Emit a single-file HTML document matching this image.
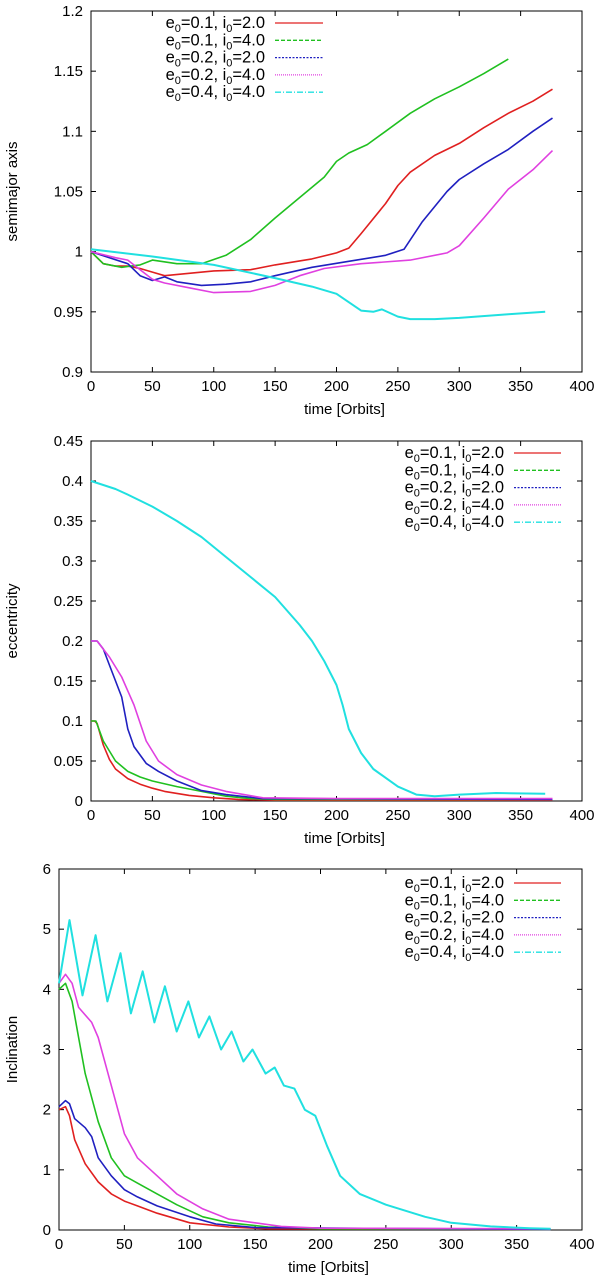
<!DOCTYPE html>
<html><head><meta charset="utf-8"><style>
html,body{margin:0;padding:0;background:#fff;}
svg{display:block;font-family:"Liberation Sans",sans-serif;}
</style></head><body>
<svg id="c" width="600" height="1285" xmlns="http://www.w3.org/2000/svg"></svg>
<script>
const xTicks=[0,50,100,150,200,250,300,350,400];
const legendLabels=[["0.1","2.0"],["0.1","4.0"],["0.2","2.0"],["0.2","4.0"],["0.4","4.0"]];
const colors=["#e02020","#20c020","#2020c0","#e040e0","#20e0e0"];
const dashes=["","4,2","2,1.5","1,1","6,2,1,2"];

const aTicks=[0.9,0.95,1,1.05,1.1,1.15,1.2];
const aRed=[[0,1],[10,0.99],[20,0.988],[30,0.988],[40,0.986],[50,0.983],[60,0.98],[80,0.982],[100,0.984],[130,0.985],[150,0.989],[180,0.994],[200,0.999],[210,1.003],[220,1.015],[240,1.04],[250,1.055],[260,1.066],[280,1.08],[300,1.09],[320,1.103],[340,1.115],[360,1.125],[376,1.135]];
const aGreen=[[0,1],[10,0.99],[25,0.987],[40,0.989],[50,0.993],[70,0.99],[90,0.99],[110,0.997],[130,1.01],[150,1.028],[170,1.045],[190,1.062],[200,1.075],[210,1.082],[225,1.089],[240,1.1],[260,1.115],[280,1.127],[300,1.137],[320,1.148],[340,1.16]];
const aBlue=[[0,1],[15,0.995],[30,0.99],[40,0.98],[50,0.976],[60,0.979],[70,0.975],[90,0.972],[110,0.973],[130,0.975],[150,0.98],[180,0.987],[210,0.992],[240,0.997],[255,1.002],[270,1.025],[290,1.05],[300,1.06],[320,1.073],[340,1.085],[360,1.1],[376,1.111]];
const aMag=[[0,1],[20,0.995],[30,0.993],[40,0.985],[50,0.977],[60,0.974],[80,0.97],[100,0.966],[130,0.967],[150,0.972],[170,0.98],[190,0.986],[220,0.99],[260,0.993],[290,0.999],[300,1.005],[320,1.028],[340,1.052],[360,1.068],[376,1.084]];
const aCyan=[[0,1.002],[50,0.996],[100,0.989],[150,0.978],[180,0.971],[200,0.965],[210,0.958],[220,0.951],[230,0.95],[237,0.952],[250,0.946],[260,0.944],[280,0.944],[300,0.945],[340,0.948],[370,0.95]];

const eTicks=[0,0.05,0.1,0.15,0.2,0.25,0.3,0.35,0.4,0.45];
const eRed=[[0,0.1],[3,0.1],[5,0.097],[10,0.07],[15,0.052],[20,0.04],[30,0.028],[40,0.021],[50,0.016],[60,0.012],[80,0.007],[100,0.004],[120,0.002],[150,0.001],[376,0.001]];
const eGreen=[[0,0.1],[4,0.1],[10,0.075],[20,0.05],[30,0.037],[40,0.03],[50,0.025],[70,0.018],[90,0.012],[110,0.006],[130,0.003],[150,0.002],[376,0.002]];
const eBlue=[[0,0.2],[5,0.2],[10,0.19],[15,0.17],[25,0.13],[30,0.09],[35,0.068],[45,0.047],[55,0.037],[70,0.025],[90,0.013],[110,0.008],[140,0.003],[376,0.002]];
const eMag=[[0,0.2],[5,0.2],[15,0.18],[25,0.155],[35,0.12],[45,0.075],[55,0.05],[70,0.033],[90,0.02],[110,0.012],[140,0.004],[200,0.003],[376,0.003]];
const eCyan=[[0,0.4],[10,0.395],[20,0.39],[30,0.383],[50,0.368],[70,0.35],[90,0.33],[110,0.305],[130,0.28],[150,0.255],[170,0.22],[180,0.2],[190,0.175],[200,0.145],[205,0.12],[210,0.09],[220,0.06],[230,0.04],[250,0.018],[265,0.008],[280,0.006],[300,0.008],[330,0.01],[370,0.009]];

const iTicks=[0,1,2,3,4,5,6];
const iRed=[[0,2.0],[5,2.05],[8,1.9],[12,1.5],[20,1.1],[30,0.8],[40,0.6],[50,0.48],[60,0.4],[75,0.28],[100,0.12],[130,0.05],[160,0.02],[376,0.01]];
const iGreen=[[0,4.0],[5,4.1],[10,3.8],[15,3.2],[20,2.6],[30,1.8],[40,1.2],[50,0.9],[60,0.78],[75,0.6],[90,0.42],[110,0.22],[130,0.12],[160,0.05],[200,0.02],[376,0.01]];
const iBlue=[[0,2.05],[5,2.15],[8,2.1],[12,1.85],[20,1.7],[25,1.55],[30,1.2],[40,0.9],[50,0.67],[60,0.55],[75,0.4],[100,0.22],[120,0.1],[150,0.04],[376,0.01]];
const iMag=[[0,4.1],[5,4.25],[10,4.1],[15,3.7],[25,3.45],[30,3.2],[40,2.4],[50,1.6],[60,1.2],[75,0.9],[90,0.6],[110,0.35],[130,0.18],[150,0.12],[170,0.06],[200,0.03],[376,0.02]];
const iCyan=[[0,4.1],[8,5.15],[18,3.9],[28,4.9],[37,3.8],[47,4.6],[55,3.6],[64,4.3],[73,3.45],[81,4.05],[90,3.3],[99,3.8],[107,3.2],[115,3.55],[124,3.0],[132,3.3],[141,2.8],[148,3.0],[158,2.6],[165,2.7],[172,2.4],[180,2.35],[188,2.0],[196,1.9],[205,1.4],[215,0.9],[230,0.6],[250,0.42],[280,0.22],[300,0.12],[330,0.06],[360,0.03],[376,0.02]];

const NS="http://www.w3.org/2000/svg";
const svg=document.getElementById('c');
function mk(t,a,p){const e=document.createElementNS(NS,t);for(const k in a)e.setAttribute(k,a[k]);(p||svg).appendChild(e);return e;}

function panel(name,L,R,T,B,ymin,ymax,yTicks,yDec,ylabel,series,legX,legY,legEnd){
  const g=mk('g',{});
  
  
  const xs=v=>L+(v-0)/(400-0)*(R-L);
  const ys=v=>B-(v-ymin)/(ymax-ymin)*(B-T);
  const ax=mk('rect',{x:L,y:T,width:R-L,height:B-T,fill:'none',stroke:'#000','stroke-width':1},g);
  
  
  xTicks.forEach(t=>{
    const x=xs(t);
    mk('line',{x1:x,y1:B,x2:x,y2:B-5,stroke:'#000'},g);
    mk('line',{x1:x,y1:T,x2:x,y2:T+5,stroke:'#000'},g);
    const tx=mk('text',{x:x,y:B+19,'font-size':15,'text-anchor':'middle'},g);
    tx.textContent=t;
    
    
  });
  yTicks.forEach(t=>{
    const y=ys(t);
    mk('line',{x1:L,y1:y,x2:L+5,y2:y,stroke:'#000'},g);
    mk('line',{x1:R,y1:y,x2:R-5,y2:y,stroke:'#000'},g);
    const tx=mk('text',{x:L-8,y:y+5,'font-size':15,'text-anchor':'end'},g);
    tx.textContent=yDec(t);
    
    
  });
  const xl=mk('text',{x:(L+R)/2+8,y:B+42,'font-size':15,'text-anchor':'middle'},g);
  xl.textContent='time [Orbits]';
  
  
  const cy=(T+B)/2;
  const yl=mk('text',{x:17,y:cy,'font-size':15,'text-anchor':'middle',transform:`rotate(-90 17 ${cy})`},g);
  yl.textContent=ylabel;
  
  
  series.forEach((s,i)=>{
    const d=s.map((p,j)=>(j?'L':'M')+xs(p[0]).toFixed(1)+','+ys(p[1]).toFixed(1)).join('');
    const pth=mk('path',{d:d,fill:'none',stroke:colors[i],'stroke-width':i==4?2:1.6,'stroke-linejoin':'round'},g);
    
    
  });
  legendLabels.forEach((lb,i)=>{
    const y=legY+i*17.3;
    const tx=mk('text',{x:legX,y:y+5,'font-size':16.5,'text-anchor':'end'},g);
    tx.innerHTML=`e<tspan font-size="11" dy="4">0</tspan><tspan dy="-4">=${lb[0]}, i</tspan><tspan font-size="11" dy="4">0</tspan><tspan dy="-4">=${lb[1]}</tspan>`;
    
    
    const ln=mk('line',{x1:legX+10,y1:y,x2:legEnd,y2:y,stroke:colors[i],'stroke-width':1.3,'stroke-dasharray':dashes[i]},g);
    
    
  });
}
panel('semimajor-axis-panel',91,582,11,372,0.9,1.2,aTicks,t=>String(+t.toFixed(2)),'semimajor axis',[aRed,aGreen,aBlue,aMag,aCyan],265,23,323);
panel('eccentricity-panel',91,582,441,801,0,0.45,eTicks,t=>String(+t.toFixed(2)),'eccentricity',[eRed,eGreen,eBlue,eMag,eCyan],504,453,561);
panel('inclination-panel',59,582,869,1230,0,6,iTicks,t=>String(t),'Inclination',[iRed,iGreen,iBlue,iMag,iCyan],504,883,561);
</script>
</body></html>
